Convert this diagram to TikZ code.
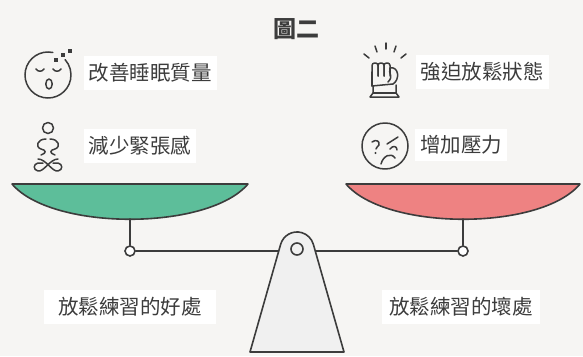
\documentclass[tikz,border=0pt]{standalone}
\usepackage{fontspec}
\newfontfamily\cjk{Noto Sans CJK TC}
\definecolor{ink}{HTML}{3C3C3C}
\definecolor{panG}{HTML}{5DBE9A}
\definecolor{panR}{HTML}{EE8282}
\definecolor{paper}{HTML}{F6F5F3}
\definecolor{stand}{HTML}{F0F0F0}
\begin{document}
\begin{tikzpicture}[x=1pt,y=1pt,
  line/.style={draw=ink, line width=1.6pt, line cap=round, line join=round},
  icon/.style={draw=ink, line width=1.5pt, line cap=round, line join=round},
  lbl/.style={font=\cjk\fontsize{20.5}{24}\selectfont, text=ink, fill=white,
    inner xsep=5pt, inner ysep=7pt},
  pivot/.style={circle, draw=ink, line width=1.6pt, fill=white,
    minimum size=10pt, inner sep=0pt},
]
\fill[paper] (0,0) rectangle (583,-356);
\useasboundingbox (0,0) rectangle (583,-356);

% title
\node[font=\cjk\bfseries\fontsize{23}{26}\selectfont, text=ink] (title) at (296,-29) {圖二};

% labels
\node[lbl] (sleep)  at (150,-73)  {改善睡眠質量};
\node[lbl] (calm)   at (140,-146) {減少緊張感};
\node[lbl] (force)  at (482,-72)  {強迫放鬆狀態};
\node[lbl] (stress) at (461,-145) {增加壓力};
\node[lbl, inner xsep=14pt] (good) at (130,-307) {放鬆練習的好處};
\node[lbl, inner xsep=7pt] (bad)  at (461,-307) {放鬆練習的壞處};

% pans
\draw[line, fill=panG] (12,-184) -- (248,-184)
  .. controls (208,-231) and (52,-231) .. (12,-184) -- cycle;
\draw[line, fill=panR] (346,-184) -- (580,-184)
  .. controls (541,-231) and (386,-231) .. (346,-184) -- cycle;
\coordinate (lpan) at (130,-219);
\coordinate (rpan) at (463,-219);

% beam and pivots
\node[pivot] (lp) at (130,-251) {};
\node[pivot] (rp) at (463,-251) {};
\draw[line] (lpan) -- (lp.north);
\draw[line] (rpan) -- (rp.north);
\draw[line] (lp.east) -- (rp.west);

% fulcrum
\draw[line, fill=stand] (250,-352) -- (280.65,-244.3)
  arc[start angle=164.1, end angle=15.9, radius=17] -- (344,-352) -- cycle;
\node[pivot, fill=stand, minimum size=12pt] (hub) at (297,-249) {};

% sleeping face
\begin{scope}[shift={(48,-75)}]
  \draw[icon] (78:23) arc[start angle=78, end angle=402, radius=23];
  \draw[icon] (-12,6) .. controls (-10,3) and (-6,3) .. (-4,6);
  \draw[icon] (5,6) .. controls (7,3) and (11,3) .. (13,6);
  \draw[icon] (1,-9) ellipse[x radius=3.2, y radius=5];
  \foreach \p in {(8,15),(15,20),(22,24)}
    \draw[icon, fill=ink, line width=1.1pt] \p ++(-1.6,-1.6) rectangle ++(3.2,3.2);
\end{scope}

% meditating figure
\begin{scope}[shift={(48,-128)}]
  \draw[icon] (0,0) circle[radius=5.5];
  \draw[icon] (-2,-11) .. controls (-11,-11) and (-13,-19) .. (-7,-21)
    .. controls (-2,-22) and (-1,-25) .. (-7,-27);
  \draw[icon] (2,-11) .. controls (11,-11) and (13,-19) .. (7,-21)
    .. controls (2,-22) and (1,-25) .. (7,-27);
  \draw[icon] (10,-31) .. controls (2,-31) and (-4,-44) .. (-10,-43)
    .. controls (-15,-42) and (-15,-36) .. (-10,-35) -- (-5,-35);
  \draw[icon] (-10,-31) .. controls (-2,-31) and (4,-44) .. (10,-43)
    .. controls (15,-42) and (15,-36) .. (10,-35) -- (5,-35);
\end{scope}

% clenched fist
\begin{scope}[shift={(385,-80)}]
  \draw[icon] (-21,26) -- (-16,22);
  \draw[icon] (-10,34) -- (-8,28);
  \draw[icon] (1,37) -- (1,31);
  \draw[icon] (11,34) -- (9,28);
  \draw[icon] (21,26) -- (16,22);
  \foreach \x in {-13,-7,-1}
    \draw[icon, rounded corners=2.5pt] (\x,4) -- (\x,17) -- (\x+6,17) -- (\x+6,4);
  \draw[icon] (-13,8) -- (-13,-6);
  \draw[icon] (5,12) .. controls (14,14) and (15,0) .. (8,-4) -- (-13,-6);
  \draw[icon] (5,12) .. controls (3,6) and (9,4) .. (3,-2);
  \draw[icon] (-12,-6) -- (-12,-13) -- (-15,-17) -- (14,-17) -- (11,-13) -- (11,-5);
  \draw[icon] (-12,-13) -- (11,-13);
\end{scope}

% frowning face
\begin{scope}[shift={(385,-146)}]
  \draw[icon] (0,0) circle[radius=23];
  \draw[icon] (-13,4) .. controls (-9,7) and (-5,5) .. (-6,1) .. controls (-7,-1) and (-9,-1) .. (-9,-3);
  \fill[ink] (-9.5,-7) circle[radius=1.2];
  \draw[icon] (2,2) -- (13,9);
  \draw[icon] (5,-3) .. controls (8,1) and (12,0) .. (12,-4);
  \draw[icon] (-4,-18) .. controls (-2,-10) and (6,-6) .. (10,-12);
\end{scope}
\end{tikzpicture}
\end{document}
